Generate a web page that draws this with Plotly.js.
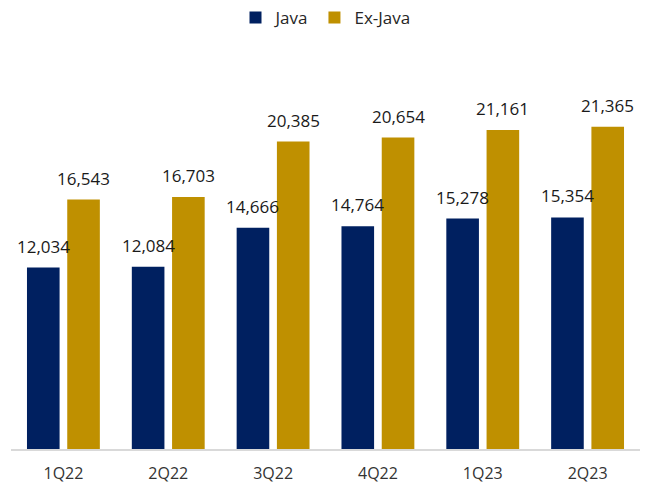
<!DOCTYPE html>
<html><head><meta charset="utf-8">
<script src="https://cdn.plot.ly/plotly-3.0.1.min.js"></script>
<style>html,body{margin:0;padding:0;background:#fff;}#chart{width:653px;height:488px;}</style>
</head><body><div id="chart"></div>
<script>
const categories = ["1Q22","2Q22","3Q22","4Q22","1Q23","2Q23"];
const javaValues = [12034, 12084, 14666, 14764, 15278, 15354];
const exJavaValues = [16543, 16703, 20385, 20654, 21161, 21365];
const seriesNames = ["Java", "Ex-Java"];

const fmt = v => v.toLocaleString("en-US");
const font = "Open Sans, Noto Sans, sans-serif";

const W = 653, H = 488;
const margin = {l:11, r:13, t:72, b:39};
const bargap = 0.232, bargroupgap = 0.19;
const catWidth = (W - margin.l - margin.r) / categories.length;
const dx = catWidth * (1 - bargap) / 4;

const traces = [
  {type:"bar", name:seriesNames[0], x:categories, y:javaValues, marker:{color:"#002060"}, hoverinfo:"skip"},
  {type:"bar", name:seriesNames[1], x:categories, y:exJavaValues, marker:{color:"#BF9000"}, hoverinfo:"skip"}
];

const annotations = [];
[javaValues, exJavaValues].forEach((vals, ti) => {
  vals.forEach((v, i) => {
    annotations.push({
      x: categories[i], y: v, xref:"x", yref:"y",
      text: fmt(v), showarrow:false,
      xanchor:"center", yanchor:"bottom",
      xshift: ti === 0 ? -dx : dx, yshift: 8,
      font:{family:font, size:17, color:"#1a1a1a"}
    });
  });
});

const layout = {
  width:W, height:H, margin:margin,
  paper_bgcolor:"#fff", plot_bgcolor:"#fff",
  barmode:"group", bargap:bargap, bargroupgap:bargroupgap,
  showlegend:true,
  legend:{orientation:"h", x:0.5, xanchor:"center", y:1.0, yref:"container", yanchor:"top",
    font:{family:font, size:17, color:"#262626"}, traceorder:"normal"},
  xaxis:{showline:true, linecolor:"#d9d9d9", linewidth:2, ticks:"", showgrid:false,
    tickfont:{family:font, size:16, color:"#333"}, ticklabelstandoff:9},
  yaxis:{range:[0,25000], visible:false, showgrid:false, zeroline:false},
  annotations: annotations,
  font:{family:font}
};
Plotly.newPlot("chart", traces, layout, {displayModeBar:false, staticPlot:true});
</script></body></html>
